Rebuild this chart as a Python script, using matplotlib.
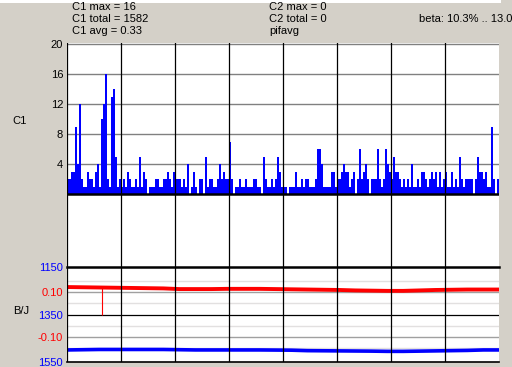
import matplotlib
matplotlib.use('Agg')
import matplotlib.pyplot as plt
from matplotlib.patches import Rectangle
import numpy as np

# ---------------- data ----------------
c1_counts = [2, 2, 3, 3, 9, 4, 12, 2, 1, 1, 3, 2, 2, 1, 3, 4, 1, 10, 12, 16, 2, 1, 13, 14, 5, 1, 2, 1,
             2, 1, 3, 2, 1, 1, 2, 1, 5, 1, 3, 2, 0, 1, 1, 1, 2, 2, 1, 1, 2, 2, 3, 2, 1, 3,
             2, 2, 2, 1, 2, 1, 4, 0, 1, 3, 1, 0, 2, 2, 0, 5, 1, 2, 2, 1, 1, 2, 4, 2, 3, 2, 2, 7,
             2, 0, 1, 1, 2, 1, 1, 2, 1, 1, 1, 2, 2, 1, 1, 0, 5, 2, 1, 1, 2, 1, 2, 5, 3, 1,
             1, 1, 0, 1, 1, 1, 3, 1, 1, 2, 1, 2, 2, 1, 1, 1, 2, 6, 6, 4, 1, 1, 1, 1, 3, 3, 1,
             2, 2, 3, 4, 3, 3, 1, 2, 3, 0, 2, 6, 2, 3, 4, 2, 0, 2, 2, 2, 6, 2, 1, 2, 6, 4, 3,
             2, 5, 3, 3, 2, 1, 2, 1, 2, 1, 4, 1, 1, 2, 1, 3, 3, 2, 1, 2, 3, 2, 3, 1, 3, 1, 2, 3,
             1, 1, 3, 1, 2, 1, 5, 2, 1, 2, 2, 2, 2, 0, 2, 5, 3, 3, 2, 3, 1, 1, 9, 2, 0, 2]

red_x = [0, 8, 16, 24, 32, 40, 48, 56, 64, 72, 80, 88, 96, 104, 112, 120, 128, 136,
         144, 152, 160, 168, 176, 184, 192, 200, 208, 216]
red_vals = [0.122, 0.121, 0.120, 0.119, 0.118, 0.117, 0.116, 0.113, 0.113, 0.113, 0.114,
            0.114, 0.114, 0.113, 0.112, 0.111, 0.110, 0.109, 0.107, 0.106, 0.105, 0.105,
            0.107, 0.109, 0.110, 0.111, 0.111, 0.111]
spike_x = [17]
spike_low = [0.0]

blue_x = [0, 16, 32, 48, 56, 64, 80, 96, 112, 120, 136, 152, 160, 168, 176, 184, 192, 200, 208, 216]
blue_vals = [1499, 1497, 1497, 1497, 1498, 1499, 1499, 1499, 1500, 1502, 1503, 1504, 1505,
             1505, 1504, 1503, 1502, 1501, 1499, 1499]

top_ticks = [4, 8, 12, 16, 20]
blue_ticks = [1150, 1350, 1550]
red_ticks = [0.10, -0.10]
red_tick_labels = ["0.10", "-0.10"]
header_left = ["C1 max = 16", "C1 total = 1582", "C1 avg = 0.33"]
header_mid = ["C2 max = 0", "C2 total = 0", "pifavg"]
header_right = "beta: 10.3% .. 13.0%"

# ---------------- layout ----------------
W, H = 512, 367
BG = '#d4d0c8'
FONT = 'Liberation Sans'
FS = 8
plt.rcParams['font.family'] = [FONT, 'DejaVu Sans']

fig = plt.figure(figsize=(W / 100, H / 100), dpi=100, facecolor=BG)


def fx(px):
    return px / W


def fy(py):
    return 1 - py / H


L, R = 67.3, 499.3
nb = len(c1_counts)
xs = np.arange(nb) + 0.5

# top strip
fig.patches.append(Rectangle((0, fy(3)), fx(501), 3 / H, transform=fig.transFigure,
                             facecolor='white', edgecolor='none', zorder=0))

# ---- top panel ----
ax = fig.add_axes([fx(L), fy(267), (R - L) / W, (267 - 43.3) / H])
ax.set_facecolor('white')
ax.set_xlim(0, nb)
ax.set_ylim(-9.69, 20.13)
for t in top_ticks:
    ax.axhline(t, color='#808080', lw=1.0, zorder=1)
ax.bar(xs, c1_counts, width=1.0, color='#0000ff', edgecolor='none', zorder=2)
ax.axhline(0, color='black', lw=1.8, zorder=3)
for k in range(0, 8):
    ax.axvline(k * nb / 8, color='black', lw=0.9, zorder=4)
ax.set_yticks(top_ticks)
ax.set_yticklabels([str(t) for t in top_ticks])
ax.tick_params(axis='y', length=0, pad=3, labelsize=FS)
ax.set_xticks([])
for s in ax.spines.values():
    s.set_visible(False)

# ---- bottom panel ----
axr = fig.add_axes([fx(L), fy(362), (R - L) / W, (362 - 267) / H])
axr.set_facecolor('white')
axr.set_xlim(0, nb)
axr.set_ylim(-0.2111, 0.2111)
for g in [0.15, 0.05, -0.05, -0.15]:
    axr.axhline(g, color='#e2e0e0', lw=1.0, zorder=1)
for g in red_ticks:
    axr.axhline(g, color='#a0a0a0', lw=1.0, zorder=1)
axr.axhline(0, color='black', lw=0.9, zorder=1)
axr.plot(red_x, red_vals, color='#ff0000', lw=2.8, zorder=3, solid_capstyle='butt')
spike_top = np.interp(spike_x, red_x, red_vals)
axr.vlines(np.array(spike_x) + 0.5, spike_low, spike_top, color='#ff0000', lw=0.8, zorder=3)
axr.set_yticks(red_ticks)
axr.set_yticklabels(red_tick_labels)
for lab in axr.get_yticklabels():
    lab.set_color('#ff0000')
axr.tick_params(axis='y', length=0, pad=3, labelsize=FS)
axr.set_xticks([])
for s in axr.spines.values():
    s.set_visible(False)

axb = axr.twinx()
axb.set_ylim(1550, 1148)
axb.plot(blue_x, blue_vals, color='#0000ff', lw=2.6, zorder=3, solid_capstyle='butt')
axb.axhline(1150, color='black', lw=1.8, zorder=4, clip_on=False)
axb.axhline(1550, color='black', lw=1.2, zorder=4, clip_on=False)
for k in range(0, 8):
    axb.axvline(k * nb / 8, color='black', lw=0.9, zorder=5)
axb.yaxis.tick_left()
axb.set_yticks(blue_ticks)
axb.set_yticklabels([str(t) for t in blue_ticks])
for lab in axb.get_yticklabels():
    lab.set_color('#0000ff')
axb.tick_params(axis='y', length=0, pad=3, labelsize=FS, left=True, right=False,
                labelleft=True, labelright=False)
axb.set_xticks([])
for s in axb.spines.values():
    s.set_visible(False)

# ---- texts ----
for i, t in enumerate(header_left):
    fig.text(fx(71.7), fy(9.5 + 12.4 * i), t, fontsize=FS, ha='left', va='baseline')
for i, t in enumerate(header_mid):
    fig.text(fx(269.3), fy(9.5 + 12.4 * i), t, fontsize=FS, ha='left', va='baseline')
fig.text(fx(419.3), fy(21.9), header_right, fontsize=FS, ha='left', va='baseline')
fig.text(fx(12), fy(121), "C1", fontsize=FS, ha='left', va='center')
fig.text(fx(12.7), fy(311.5), "B/J", fontsize=FS, ha='left', va='center')

fig.savefig('out.png', dpi=100, facecolor=BG)
